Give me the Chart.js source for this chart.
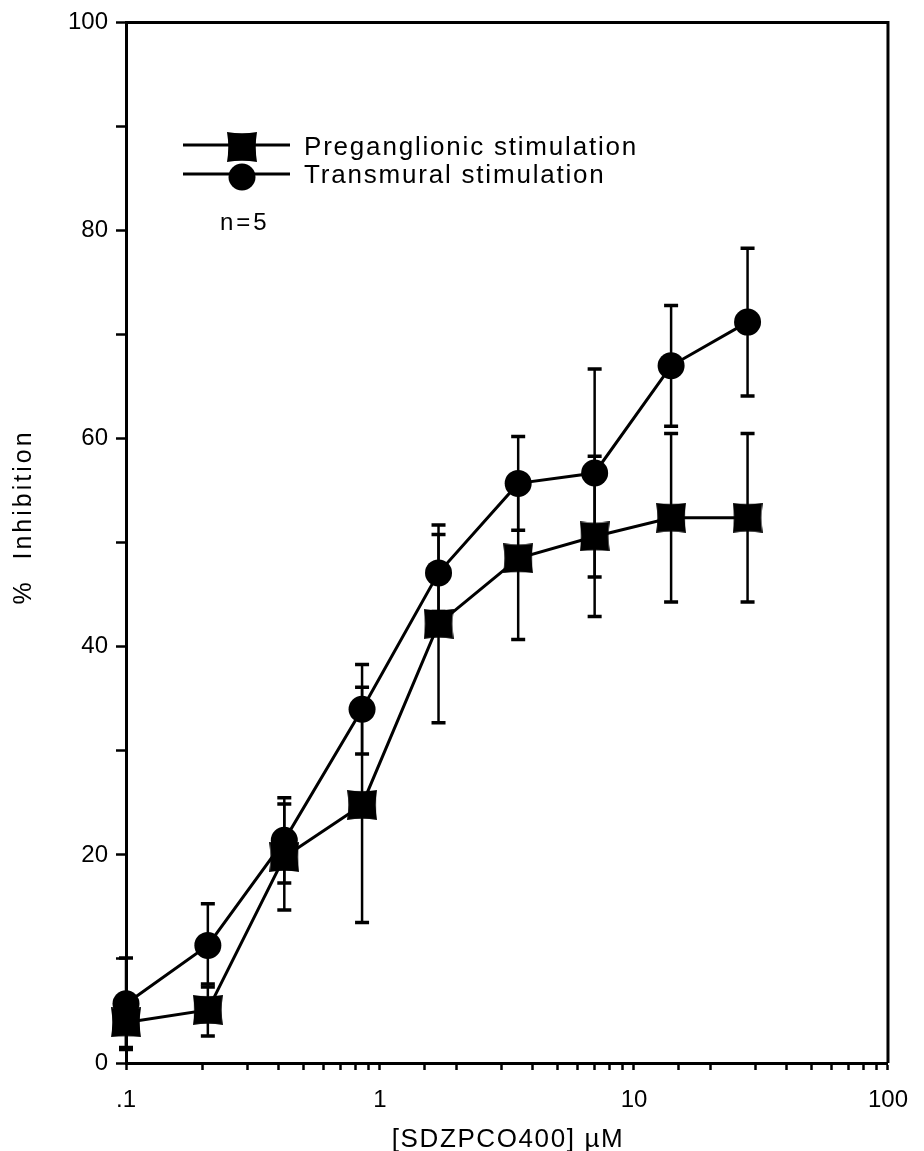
<!DOCTYPE html>
<html>
<head>
<meta charset="utf-8">
<title>SDZPCO400 inhibition</title>
<script src="https://cdn.jsdelivr.net/npm/chart.js@4.4.1/dist/chart.umd.min.js"></script>
<style>
  html, body { margin: 0; padding: 0; background: #fff; }
  #wrap { position: relative; width: 924px; height: 1151px; }
</style>
</head>
<body>
<div id="wrap"><canvas id="inhibitionChart" width="924" height="1151"></canvas></div>
<script>
// concentrations (µM) and mean % inhibition ± SEM, n=5
const doses = [0.1, 0.21, 0.42, 0.85, 1.7, 3.5, 7, 14, 28];
const pregMean = [3.9, 5.1, 19.8, 24.8, 42.2, 48.5, 50.6, 52.4, 52.4];
const pregSem = [2.4, 2.5, 5.1, 11.3, 9.5, 7.8, 7.7, 8.1, 8.1];
const transMean = [5.7, 11.3, 21.4, 34.0, 47.1, 55.7, 56.7, 67.0, 71.2];
const transSem = [4.4, 4.0, 4.1, 4.3, 3.7, 4.5, 10.0, 5.8, 7.1];

const seriesNames = ['Preganglionic stimulation', 'Transmural stimulation'];
const xTickNames = { '-1': '.1', '0': '1', '1': '10', '2': '100' };
const yTickValues = [0, 20, 40, 60, 80, 100];

const FONT = "'Liberation Sans', Arial, Helvetica, sans-serif";

// filled square with slightly pinched sides
function makeSquareMarker(size) {
    const c = document.createElement('canvas');
    c.width = size;
    c.height = size;
    const g = c.getContext('2d');
    const s = size, k = 2.5;
    g.fillStyle = '#000';
    g.beginPath();
    g.moveTo(0, 0);
    g.quadraticCurveTo(s / 2, k, s, 0);
    g.quadraticCurveTo(s - k, s / 2, s, s);
    g.quadraticCurveTo(s / 2, s - k, 0, s);
    g.quadraticCurveTo(k, s / 2, 0, 0);
    g.fill();
    return c;
}
const squareMarker = makeSquareMarker(30);

const toPoints = (means) => doses.map((d, i) => ({ x: d, y: means[i] }));

// vertical SEM bars with caps, under the markers
const errorBars = {
    id: 'errorBars',
    beforeDatasetsDraw(chart) {
        const { ctx, scales: { x, y } } = chart;
        ctx.save();
        ctx.strokeStyle = '#000';
        chart.data.datasets.forEach(ds => {
            ds.data.forEach((p, i) => {
                const err = ds.errors[i];
                const px = x.getPixelForValue(p.x);
                const top = y.getPixelForValue(p.y + err);
                const bot = y.getPixelForValue(Math.max(p.y - err, 0));
                ctx.lineWidth = 2.5;
                ctx.beginPath();
                ctx.moveTo(px, top);
                ctx.lineTo(px, bot);
                ctx.stroke();
                ctx.lineWidth = 3.5;
                ctx.beginPath();
                ctx.moveTo(px - 7, top);
                ctx.lineTo(px + 7, top);
                ctx.moveTo(px - 7, bot);
                ctx.lineTo(px + 7, bot);
                ctx.stroke();
            });
        });
        ctx.restore();
    }
};

// top/right frame, axis titles, legend
const decorations = {
    id: 'decorations',
    afterDraw(chart) {
        const { ctx, chartArea: a } = chart;
        ctx.save();
        ctx.strokeStyle = '#000';
        ctx.lineWidth = 3;
        ctx.beginPath();
        ctx.moveTo(a.left, a.top);
        ctx.lineTo(a.right, a.top);
        ctx.lineTo(a.right, a.bottom);
        ctx.stroke();

        ctx.fillStyle = '#000';
        ctx.font = '26px ' + FONT;
        ctx.letterSpacing = '1.6px';
        ctx.textAlign = 'center';
        ctx.textBaseline = 'alphabetic';
        ctx.fillText('[SDZPCO400] µM', 508, 1147);

        ctx.save();
        ctx.translate(31, 517);
        ctx.rotate(-Math.PI / 2);
        ctx.font = '25px ' + FONT;
        ctx.letterSpacing = '3px';
        ctx.fillText('%  Inhibition', 0, 0);
        ctx.restore();

        // legend
        ctx.lineWidth = 3;
        ctx.beginPath();
        ctx.moveTo(183, 145);
        ctx.lineTo(290, 145);
        ctx.moveTo(183, 174);
        ctx.lineTo(290, 174);
        ctx.stroke();
        ctx.drawImage(squareMarker, 242 - 15, 147 - 15);
        ctx.beginPath();
        ctx.arc(242, 177, 13.5, 0, Math.PI * 2);
        ctx.fill();

        ctx.textAlign = 'left';
        ctx.font = '26px ' + FONT;
        ctx.letterSpacing = '1.8px';
        ctx.fillText(seriesNames[0], 304, 155);
        ctx.fillText(seriesNames[1], 304, 183);
        ctx.font = '24px ' + FONT;
        ctx.letterSpacing = '3px';
        ctx.fillText('n=5', 220, 230);
        ctx.restore();
    }
};

new Chart(document.getElementById('inhibitionChart'), {
    type: 'line',
    data: {
        datasets: [
            {
                label: seriesNames[0],
                data: toPoints(pregMean),
                errors: pregSem,
                borderColor: '#000',
                backgroundColor: '#000',
                borderWidth: 3,
                pointStyle: squareMarker,
                pointRadius: 15,
                tension: 0,
                clip: false,
            },
            {
                label: seriesNames[1],
                data: toPoints(transMean),
                errors: transSem,
                borderColor: '#000',
                backgroundColor: '#000',
                borderWidth: 3,
                pointStyle: 'circle',
                pointRadius: 13.5,
                pointBorderWidth: 0,
                tension: 0,
                clip: false,
            },
        ],
    },
    options: {
        responsive: false,
        animation: false,
        devicePixelRatio: 1,
        layout: { padding: { left: 0, right: 27, top: 21, bottom: 0 } },
        plugins: {
            legend: { display: false },
            tooltip: { enabled: false },
        },
        scales: {
            x: {
                type: 'logarithmic',
                min: 0.1,
                max: 100,
                border: { display: true, color: '#000', width: 3 },
                grid: {
                    drawOnChartArea: false,
                    drawTicks: true,
                    tickLength: 7,
                    tickWidth: 2.5,
                    tickColor: '#000',
                },
                ticks: {
                    autoSkip: false,
                    maxRotation: 0,
                    padding: 16,
                    color: '#000',
                    font: { family: FONT, size: 24 },
                    callback: (value) => {
                        const e = Math.log10(value);
                        if (Math.abs(e - Math.round(e)) < 1e-6) {
                            return xTickNames[String(Math.round(e))] || '';
                        }
                        return '';
                    },
                },
                afterFit: (scale) => { scale.height = 88; },
            },
            y: {
                min: 0,
                max: 100,
                border: { display: true, color: '#000', width: 3 },
                grid: {
                    drawOnChartArea: false,
                    drawTicks: true,
                    tickLength: 10,
                    tickWidth: 2.5,
                    tickColor: '#000',
                },
                ticks: {
                    stepSize: 10,
                    padding: 8,
                    color: '#000',
                    font: { family: FONT, size: 24 },
                    callback: (value) => (yTickValues.includes(value) ? String(value) : ''),
                },
                afterFit: (scale) => { scale.width = 126; },
            },
        },
    },
    plugins: [errorBars, decorations],
});
</script>
</body>
</html>
